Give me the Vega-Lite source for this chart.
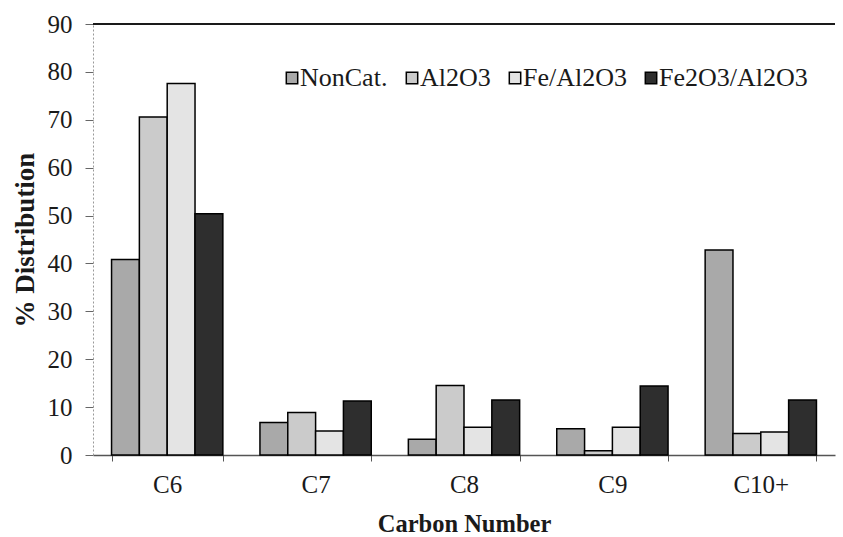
{
  "$schema": "https://vega.github.io/schema/vega-lite/v6.json",
  "width": 742,
  "height": 431,
  "autosize": {"type": "none"},
  "padding": {"left": 93, "top": 24, "right": 8, "bottom": 82},
  "background": "white",
  "config": {
    "view": {"stroke": null},
    "font": "Liberation Serif",
    "axis": {"grid": false, "labelFont": "Liberation Serif", "titleFont": "Liberation Serif", "labelColor": "#1a1a1a", "titleColor": "#1a1a1a"},
    "legend": {"labelFont": "Liberation Serif"}
  },
  "data": {
    "values": [
      {"carbon": "C6", "catalyst": "NonCat.", "value": 40.8},
      {"carbon": "C6", "catalyst": "Al2O3", "value": 70.6},
      {"carbon": "C6", "catalyst": "Fe/Al2O3", "value": 77.6},
      {"carbon": "C6", "catalyst": "Fe2O3/Al2O3", "value": 50.4},
      {"carbon": "C7", "catalyst": "NonCat.", "value": 6.8},
      {"carbon": "C7", "catalyst": "Al2O3", "value": 8.9},
      {"carbon": "C7", "catalyst": "Fe/Al2O3", "value": 5.0},
      {"carbon": "C7", "catalyst": "Fe2O3/Al2O3", "value": 11.3},
      {"carbon": "C8", "catalyst": "NonCat.", "value": 3.3},
      {"carbon": "C8", "catalyst": "Al2O3", "value": 14.5},
      {"carbon": "C8", "catalyst": "Fe/Al2O3", "value": 5.8},
      {"carbon": "C8", "catalyst": "Fe2O3/Al2O3", "value": 11.5},
      {"carbon": "C9", "catalyst": "NonCat.", "value": 5.5},
      {"carbon": "C9", "catalyst": "Al2O3", "value": 0.9},
      {"carbon": "C9", "catalyst": "Fe/Al2O3", "value": 5.8},
      {"carbon": "C9", "catalyst": "Fe2O3/Al2O3", "value": 14.4},
      {"carbon": "C10+", "catalyst": "NonCat.", "value": 42.8},
      {"carbon": "C10+", "catalyst": "Al2O3", "value": 4.5},
      {"carbon": "C10+", "catalyst": "Fe/Al2O3", "value": 4.8},
      {"carbon": "C10+", "catalyst": "Fe2O3/Al2O3", "value": 11.5}
    ]
  },
  "layer": [
    {
      "mark": {"type": "bar", "stroke": "black", "strokeWidth": 1.5},
      "encoding": {
        "x": {
          "field": "carbon",
          "type": "nominal",
          "sort": ["C6", "C7", "C8", "C9", "C10+"],
          "scale": {"paddingInner": 0.25, "paddingOuter": 0.125},
          "axis": {
            "title": "Carbon Number",
            "titleFontSize": 24.5,
            "titleFontWeight": "bold",
            "titlePadding": 15,
            "labelFontSize": 25,
            "labelAngle": 0,
            "labelPadding": 11,
            "tickBand": "extent",
            "tickSize": 6,
            "tickColor": "#555",
            "domainColor": "#555",
            "domainWidth": 1.5
          }
        },
        "xOffset": {"field": "catalyst", "type": "nominal", "sort": ["NonCat.", "Al2O3", "Fe/Al2O3", "Fe2O3/Al2O3"]},
        "y": {
          "field": "value",
          "type": "quantitative",
          "scale": {"domain": [0, 90], "nice": false},
          "axis": {
            "title": "% Distribution",
            "titleFontSize": 27,
            "titleFontWeight": "bold",
            "titlePadding": 8,
            "labelFontSize": 25,
            "labelPadding": 13,
            "values": [0, 10, 20, 30, 40, 50, 60, 70, 80, 90],
            "tickSize": 8,
            "tickColor": "#666",
            "domainColor": "#999",
            "domainDash": [2, 2],
            "domainWidth": 1
          }
        },
        "fill": {
          "field": "catalyst",
          "type": "nominal",
          "scale": {
            "domain": ["NonCat.", "Al2O3", "Fe/Al2O3", "Fe2O3/Al2O3"],
            "range": ["#a9a9a9", "#cbcbcb", "#e4e4e4", "#2e2e2e"]
          },
          "legend": {
            "title": null,
            "orient": "none",
            "direction": "horizontal",
            "legendX": 186,
            "legendY": 41,
            "padding": 0,
            "symbolType": "square",
            "symbolSize": 130,
            "symbolStrokeColor": "black",
            "symbolStrokeWidth": 1.5,
            "symbolOpacity": 1,
            "labelFontSize": 26,
            "labelColor": "#1a1a1a",
            "labelOffset": -5,
            "columnPadding": 11
          }
        }
      }
    },
    {
      "mark": {"type": "rule", "color": "#1a1a1a", "strokeWidth": 2},
      "encoding": {"y": {"datum": 90}}
    }
  ]
}
